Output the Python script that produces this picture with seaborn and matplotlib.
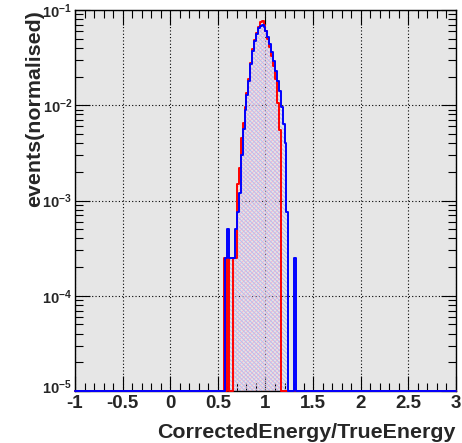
import numpy as np
import pandas as pd
import matplotlib
matplotlib.use("Agg")
import matplotlib.pyplot as plt
import matplotlib.transforms as mtransforms
import seaborn as sns
from matplotlib.ticker import FixedLocator, MultipleLocator, FuncFormatter, NullFormatter, LogLocator

# ---------------- data (normalised events per bin, bin width 0.02) ----------------
x_min, x_max, bin_width = -1.0, 3.0, 0.02
first_edge = 0.56  # left edge of the first listed bin
blue_vals = [0, 2.5e-4, 5e-4, 2.5e-4, 2.5e-4, 2.5e-4, 5e-4, 7.5e-4, 1.2e-3, 3.0e-3,
             5.7e-3, 8.9e-3, 0.0127, 0.018, 0.027, 0.037, 0.047, 0.056, 0.064, 0.068,
             0.070, 0.067, 0.060, 0.052, 0.044, 0.036, 0.029, 0.023, 0.018, 0.0140,
             0.0096, 0.0064, 0.0040, 7.5e-4, 0, 0, 0, 2.5e-4, 0]
red_vals = [2.5e-4, 0, 2.5e-4, 0, 0, 2.5e-4, 2.5e-4, 1.5e-3, 2.2e-3, 4.5e-3,
            6.5e-3, 9.5e-3, 0.0135, 0.019, 0.028, 0.039, 0.049, 0.058, 0.066, 0.075,
            0.076, 0.069, 0.060, 0.050, 0.041, 0.033, 0.026, 0.019, 0.0105, 0.0055,
            0, 0, 0, 0, 0, 0, 0, 0, 0]
x_label = "CorrectedEnergy/TrueEnergy"
y_label = "events(normalised)"
x_ticks = [-1, -0.5, 0, 0.5, 1, 1.5, 2, 2.5, 3]
x_tick_labels = ["-1", "-0.5", "0", "0.5", "1", "1.5", "2", "2.5", "3"]
y_ticks = [1e-5, 1e-4, 1e-3, 1e-2, 1e-1]
y_min, y_max = 1e-5, 1e-1

# ---------------- build full histograms ----------------
n_bins = int(round((x_max - x_min) / bin_width))
edges = np.round(x_min + bin_width * np.arange(n_bins + 1), 4)
centers = (edges[:-1] + edges[1:]) / 2
start = int(round((first_edge - x_min) / bin_width))

def full(vals):
    arr = np.zeros(n_bins)
    arr[start:start + len(vals)] = vals
    return arr

df = pd.DataFrame({"x": centers, "blue": full(blue_vals), "red": full(red_vals)})
df["red_line"] = np.where(df["red"] > 0, df["red"], y_min)
df["blue_line"] = np.where(df["blue"] > 0, df["blue"], y_min)
bin_list = edges.tolist()

# ---------------- style ----------------
sns.set_style("ticks")
plt.rcParams["font.family"] = ["Liberation Sans", "DejaVu Sans"]
plt.rcParams["font.weight"] = "bold"
plt.rcParams["mathtext.fontset"] = "custom"
plt.rcParams["mathtext.rm"] = "Liberation Sans:bold"
plt.rcParams["mathtext.bf"] = "Liberation Sans:bold"
plt.rcParams["mathtext.it"] = "Liberation Sans:bold"
plt.rcParams["hatch.linewidth"] = 0.7

fig = plt.figure(figsize=(4.62, 4.43), dpi=100)
fig.patch.set_facecolor("white")
ax = fig.add_axes([0.1623, 0.1174, 0.8247, 0.86])
ax.set_facecolor("#e6e6e6")
ax.set_yscale("log")

# hatched fills
sns.histplot(data=df, x="x", weights="red", bins=bin_list, element="step", fill=True,
             color="#f4b4cc", facecolor="none", edgecolor="#f4b4cc", hatch="////////",
             linewidth=0, ax=ax, zorder=2)
sns.histplot(data=df, x="x", weights="blue", bins=bin_list, element="step", fill=True,
             color="#b8bcf0", facecolor="none", edgecolor="#b8bcf0", hatch="\\\\\\\\\\\\\\\\",
             linewidth=0, ax=ax, zorder=2)

# outlines (empty bins drawn at the axis minimum, as in the original)
sns.histplot(data=df, x="x", weights="red_line", bins=bin_list, element="step", fill=False,
             color="#ff0000", linewidth=1.4, ax=ax, zorder=3)
sns.histplot(data=df, x="x", weights="blue_line", bins=bin_list, element="step", fill=False,
             color="#0000ff", linewidth=1.4, ax=ax, zorder=4)
for ln in ax.lines:
    ln.set_clip_on(False)

ax.set_xlim(x_min, x_max)
ax.set_ylim(y_min, y_max)

# grid
ax.grid(True, which="major", color="black", linestyle=(0, (1, 2)), linewidth=0.8)
for gl in ax.get_xgridlines() + ax.get_ygridlines():
    gl.set_zorder(1.5)

# ticks
ax.xaxis.set_major_locator(FixedLocator(x_ticks))
ax.set_xticklabels(x_tick_labels)
ax.xaxis.set_minor_locator(MultipleLocator(0.1))
ax.yaxis.set_major_locator(FixedLocator(y_ticks))
ax.yaxis.set_major_formatter(FuncFormatter(
    lambda v, p: r"$10^{%d}$" % int(round(np.log10(v)))))
ax.yaxis.set_minor_locator(LogLocator(base=10, subs=np.arange(2, 10), numticks=20))
ax.yaxis.set_minor_formatter(NullFormatter())
ax.tick_params(axis="both", which="both", direction="in", top=True, right=True,
               color="black", width=0.8)
ax.tick_params(axis="x", which="major", length=11, labelsize=13.5, pad=3)
ax.tick_params(axis="x", which="minor", length=5.5)
ax.tick_params(axis="y", which="major", length=11, labelsize=10.5, pad=2)
ax.tick_params(axis="y", which="minor", length=5.5)
for lab in ax.get_xticklabels():
    lab.set_fontweight("bold")

# lift the lowest y label slightly so it clears the "-1" below it
fig.canvas.draw()
ylabs = ax.get_yticklabels()
if ylabs:
    ylabs[0].set_transform(ylabs[0].get_transform() +
                           mtransforms.ScaledTranslation(0, 5 / 100, fig.dpi_scale_trans))

for s in ax.spines.values():
    s.set_color("black")
    s.set_linewidth(1.0)

ax.set_xlabel(x_label, fontsize=15.4, fontweight="bold", loc="right")
ax.set_ylabel(y_label, fontsize=15.4, fontweight="bold", loc="top")
ax.xaxis.set_label_coords(1.0, -0.085)
ax.xaxis.label.set_va("top")
ax.yaxis.set_label_coords(-0.082, 1.0)

fig.savefig("out.png", dpi=100, facecolor="white")
